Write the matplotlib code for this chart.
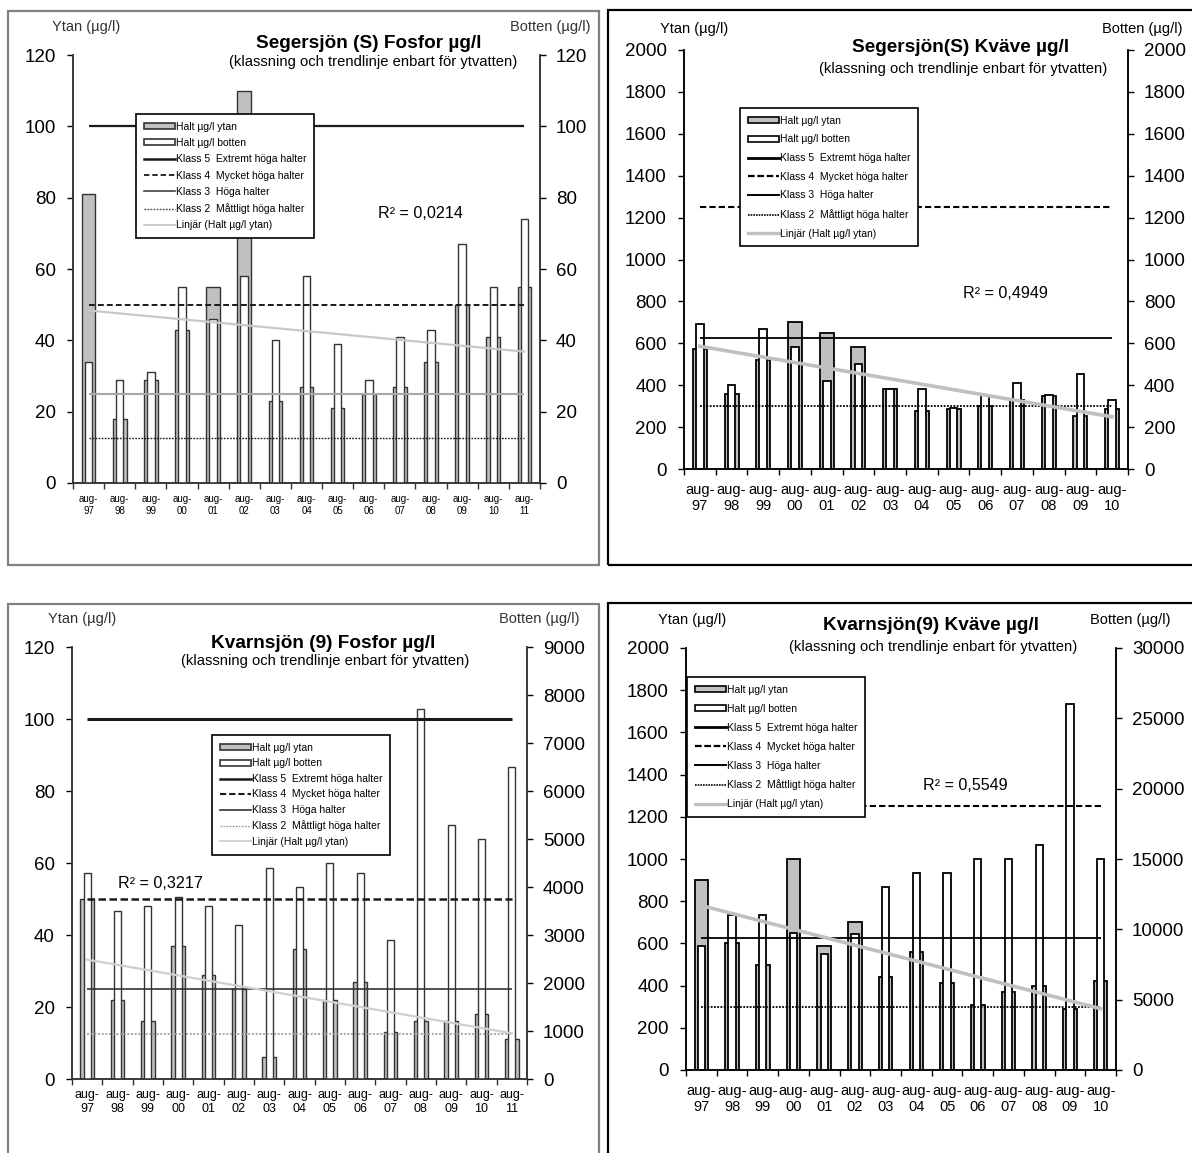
import numpy as np
import matplotlib.pyplot as plt
from matplotlib.patches import Patch, Rectangle
from matplotlib.lines import Line2D

plt.rcParams['font.family'] = ['Liberation Sans', 'DejaVu Sans']

W, H = 1192, 1153

# Sampling years (august each year)
years_97_11 = ['97', '98', '99', '00', '01', '02', '03', '04', '05', '06', '07', '08', '09', '10', '11']
years_97_10 = years_97_11[:14]

# Segersjön (S), fosfor µg/l
seg_p_ytan = [81, 18, 29, 43, 55, 110, 23, 27, 21, 25, 27, 34, 50, 41, 55]
seg_p_botten = [34, 29, 31, 55, 46, 58, 40, 58, 39, 29, 41, 43, 67, 55, 74]
seg_p_klass = [100, 50, 25, 12.5]
seg_p_r2 = 'R² = 0,0214'

# Segersjön (S), kväve µg/l
seg_n_ytan = [575, 360, 520, 700, 650, 580, 380, 275, 285, 300, 330, 350, 255, 285]
seg_n_botten = [690, 400, 670, 580, 420, 500, 380, 380, 290, 355, 410, 355, 455, 330]
seg_n_klass = [5000, 1250, 625, 300]
seg_n_r2 = 'R² = 0,4949'

# Kvarnsjön (9), fosfor µg/l (botten on its own scale)
kva_p_ytan = [50, 22, 16, 37, 29, 25, 6, 36, 22, 27, 13, 16, 16, 18, 11]
kva_p_botten = [4300, 3500, 3600, 3800, 3600, 3200, 4400, 4000, 4500, 4300, 2900, 7700, 5300, 5000, 6500]
kva_p_klass = [100, 50, 25, 12.5]
kva_p_r2 = 'R² = 0,3217'

# Kvarnsjön (9), kväve µg/l (botten on its own scale)
kva_n_ytan = [900, 600, 500, 1000, 590, 700, 440, 560, 410, 310, 370, 400, 290, 420]
kva_n_botten = [8850, 11000, 11000, 9750, 8250, 9700, 13000, 14000, 14000, 15000, 15000, 16000, 26000, 15000]
kva_n_klass = [5000, 1250, 625, 300]
kva_n_r2 = 'R² = 0,5549'

legend_labels = ['Halt µg/l ytan', 'Halt µg/l botten',
                 'Klass 5  Extremt höga halter', 'Klass 4  Mycket höga halter',
                 'Klass 3  Höga halter', 'Klass 2  Måttligt höga halter',
                 'Linjär (Halt µg/l ytan)']
subtitle = '(klassning och trendlinje enbart för ytvatten)'

fig = plt.figure(figsize=(W / 100, H / 100), dpi=100)


def fx(px):
    return px / W


def fy(py):
    return 1 - py / H


def put_text(x, y, s, **kw):
    fig.text(fx(x), fy(y), s, ha='center', va='center', **kw)


def draw_panel(years, ytan, botten, klass, r2, title, ylim, ystep, y2lim, y2step, lay, sty):
    # frame around the whole chart
    x0, y0, x1, y1 = lay['frame']
    fig.patches.append(Rectangle((fx(x0), fy(y1)), (x1 - x0) / W, (y1 - y0) / H,
                                 transform=fig.transFigure, fill=False,
                                 edgecolor=sty['frame'], linewidth=1.6, zorder=0))

    l, t, r, b = lay['axes']
    ax = fig.add_axes([fx(l), fy(b), (r - l) / W, (b - t) / H])
    ax2 = ax.twinx()

    n = len(years)
    x = np.arange(n)
    ec = sty['edge']
    ax.bar(x, ytan, width=0.44, color='#c0c0c0', edgecolor=ec, linewidth=sty['bar_lw'])
    ax2.bar(x, botten, width=0.24, color='white', edgecolor=ec, linewidth=sty['bar_lw'])

    # classification lines and trend are drawn on top, in ytan units
    ends = [0, n - 1]
    line_styles = sty['lines']
    for value, ls in zip(klass, line_styles[:4]):
        ax2.plot(ends, [value, value], transform=ax.transData, solid_capstyle='butt', **ls)
    fit = np.polyfit(x, ytan, 1)
    ax2.plot(ends, np.polyval(fit, ends), transform=ax.transData, **line_styles[4])

    ax.set_xlim(-0.5, n - 0.5)
    ax.set_ylim(*ylim)
    ax2.set_ylim(*y2lim)
    ax.set_yticks(np.arange(ylim[0], ylim[1] + 1, ystep))
    ax2.set_yticks(np.arange(y2lim[0], y2lim[1] + 1, y2step))
    ax.set_xticks(x)
    ax.set_xticklabels(['aug-\n' + yr for yr in years], fontsize=sty['xfs'], linespacing=1.2)
    ax.set_xticks(np.arange(n + 1) - 0.5, minor=True)
    ax.tick_params(axis='x', which='major', length=0, pad=sty['xpad'])
    ax.tick_params(axis='x', which='minor', length=4, width=1, color=ec)
    ax.tick_params(axis='y', labelsize=13.5, length=4.5, width=1, pad=8)
    ax2.tick_params(axis='y', labelsize=13.5, length=4.5, width=1, pad=7)

    for a in (ax, ax2):
        a.spines['top'].set_visible(False)
        for s in ('left', 'right', 'bottom'):
            a.spines[s].set_linewidth(1.1)
            a.spines[s].set_color(ec)

    # legend built from proxies matching the drawn marks
    handles = [Patch(facecolor='#c0c0c0', edgecolor=ec, linewidth=1.2),
               Patch(facecolor='white', edgecolor=ec, linewidth=1.2)]
    for ls in sty['legend_lines']:
        handles.append(Line2D([], [], **ls))
    lx, ly = lay['legend']
    leg = ax2.legend(handles, legend_labels, loc='upper left',
                     bbox_to_anchor=(fx(lx), fy(ly)), bbox_transform=fig.transFigure,
                     fontsize=7.5, frameon=True, fancybox=False, framealpha=1,
                     borderaxespad=0, handlelength=3.0, handleheight=0.5,
                     handletextpad=0.1, labelspacing=lay['lspace'], borderpad=0.75)
    leg.get_frame().set_edgecolor('black')
    leg.get_frame().set_linewidth(1.2)
    leg.set_zorder(10)

    put_text(*lay['title'], title, fontsize=13.7, fontweight='bold')
    put_text(*lay['sub'], subtitle, fontsize=10.6)
    put_text(*lay['ytan'], 'Ytan (µg/l)', fontsize=10.5, color=sty['txt'])
    put_text(*lay['botten'], 'Botten (µg/l)', fontsize=10.5, color=sty['txt'])
    put_text(*lay['r2'], r2, fontsize=11.6)


# line sets for the soft (fosfor) and crisp (kväve) charts
soft_lines = [dict(color='#1a1a1a', lw=1.6, ls='-'),
              dict(color='#1a1a1a', lw=1.4, ls=(0, (3, 1.6))),
              dict(color='#a8a8a8', lw=1.5, ls='-'),
              dict(color='#1a1a1a', lw=1.0, ls=(0, (1.2, 1))),
              dict(color='#c8c8c8', lw=1.6, ls='-')]
soft_legend = [dict(color='#1a1a1a', lw=1.8, ls='-'),
               dict(color='#1a1a1a', lw=1.3, ls=(0, (3, 1.6))),
               dict(color='#444444', lw=1.2, ls='-'),
               dict(color='#444444', lw=1.0, ls=(0, (1.2, 1))),
               dict(color='#c8c8c8', lw=1.3, ls='-')]
crisp_lines = [dict(color='black', lw=1.8, ls='-'),
               dict(color='black', lw=1.5, ls=(0, (3, 1.5))),
               dict(color='black', lw=1.3, ls='-'),
               dict(color='black', lw=1.3, ls=(0, (1, 0.8))),
               dict(color='#c0c0c0', lw=2.6, ls='-')]
crisp_legend = [dict(color='black', lw=2.0, ls='-'),
                dict(color='black', lw=1.6, ls=(0, (3, 1.2))),
                dict(color='black', lw=1.4, ls='-'),
                dict(color='black', lw=1.2, ls=(0, (1, 0.6))),
                dict(color='#c0c0c0', lw=2.4, ls='-')]
kva_p_lines = [dict(color='#1a1a1a', lw=2.2, ls='-'),
               dict(color='#1a1a1a', lw=1.8, ls=(0, (3, 1.4))),
               dict(color='#333333', lw=1.2, ls='-'),
               dict(color='#9a9a9a', lw=1.2, ls=(0, (1.2, 1))),
               dict(color='#cfcfcf', lw=1.6, ls='-')]
kva_p_legend = [dict(color='#1a1a1a', lw=1.8, ls='-'),
                dict(color='#1a1a1a', lw=1.5, ls=(0, (3, 1.4))),
                dict(color='#333333', lw=1.2, ls='-'),
                dict(color='#9a9a9a', lw=1.0, ls=(0, (1.2, 1))),
                dict(color='#cfcfcf', lw=1.3, ls='-')]

soft = dict(frame='#808080', edge='#333333', bar_lw=1.0, txt='#333333',
            lines=soft_lines, legend_lines=soft_legend, xfs=7, xpad=8)
crisp = dict(frame='black', edge='black', bar_lw=1.3, txt='black',
             lines=crisp_lines, legend_lines=crisp_legend, xfs=10.5, xpad=10)
kva_p_sty = dict(soft, lines=kva_p_lines, legend_lines=kva_p_legend, xfs=9, xpad=7)

draw_panel(years_97_11, seg_p_ytan, seg_p_botten, seg_p_klass, seg_p_r2,
           'Segersjön (S) Fosfor µg/l', (0, 120), 20, (0, 120), 20,
           dict(frame=(8, 11, 599, 565), axes=(73, 55, 540, 483),
                legend=(136, 114), lspace=0.60, title=(369, 43), sub=(373, 62),
                ytan=(86, 27), botten=(550, 27), r2=(420, 214)),
           soft)

draw_panel(years_97_10, seg_n_ytan, seg_n_botten, seg_n_klass, seg_n_r2,
           'Segersjön(S) Kväve µg/l', (0, 2000), 200, (0, 2000), 200,
           dict(frame=(608, 10, 1200, 565), axes=(684, 50, 1128, 469),
                legend=(740, 108), lspace=0.83, title=(961, 48), sub=(963, 69),
                ytan=(694, 29), botten=(1142, 29), r2=(1005, 294)),
           crisp)

draw_panel(years_97_11, kva_p_ytan, kva_p_botten, kva_p_klass, kva_p_r2,
           'Kvarnsjön (9) Fosfor µg/l', (0, 120), 20, (0, 9000), 1000,
           dict(frame=(8, 604, 599, 1165), axes=(72, 647, 527, 1079),
                legend=(212, 735), lspace=0.53, title=(323, 643), sub=(325, 661),
                ytan=(82, 619), botten=(539, 619), r2=(160, 883)),
           kva_p_sty)

draw_panel(years_97_10, kva_n_ytan, kva_n_botten, kva_n_klass, kva_n_r2,
           'Kvarnsjön(9) Kväve µg/l', (0, 2000), 200, (0, 30000), 5000,
           dict(frame=(608, 603, 1200, 1165), axes=(686, 648, 1116, 1070),
                legend=(687, 677), lspace=0.86, title=(931, 626), sub=(933, 647),
                ytan=(692, 620), botten=(1130, 620), r2=(965, 786)),
           crisp)

fig.savefig('out.png', dpi=100)
